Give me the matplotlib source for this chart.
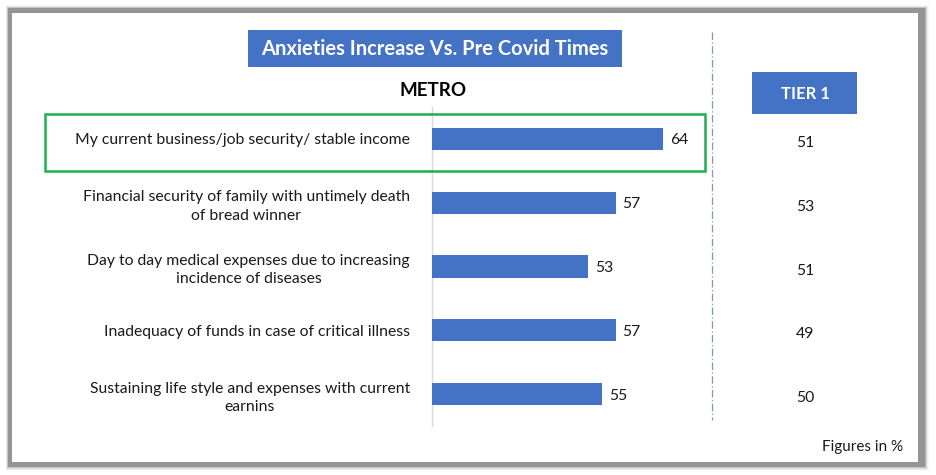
import matplotlib
matplotlib.use("Agg")
import matplotlib.pyplot as plt
from matplotlib.patches import Rectangle
from matplotlib.lines import Line2D
import matplotlib.transforms as mtransforms

categories = [
    "My current business/job security/ stable income",
    "Financial security of family with untimely death\nof bread winner",
    "Day to day medical expenses due to increasing\nincidence of diseases",
    "Inadequacy of funds in case of critical illness",
    "Sustaining life style and expenses with current\nearnins",
]
metro = [64, 57, 53, 57, 55]
tier1 = [51, 53, 51, 49, 50]
title = "Anxieties Increase Vs. Pre Covid Times"
metro_label = "METRO"
tier_label = "TIER 1"
note = "Figures in %"

W, H = 937, 475
BLUE = "#4472C4"
FONT = "Lato"
TXT = "#1a1a1a"

fig = plt.figure(figsize=(W / 100, H / 100), dpi=100)
fig.patch.set_facecolor("white")

def fx(x):
    return x / W

def fy(y):
    return 1 - y / H

# background frame with soft shadow (heavier toward right/bottom)
for i, a in enumerate([0.05, 0.08, 0.12, 0.18, 0.26, 0.36]):
    d = 6 - i
    fig.patches.append(Rectangle((fx(9 - d * 0.5), fy(466 + d * 0.7)),
                                 fx(915 + d * 1.3), (466 - 9 + d * 1.3) / H,
                                 transform=fig.transFigure, facecolor="#6a6a6a",
                                 alpha=a, edgecolor="none", zorder=0))
fig.patches.append(Rectangle((fx(12), fy(462)), fx(906), (462 - 13) / H,
                             transform=fig.transFigure, facecolor="white",
                             edgecolor="none", zorder=1))

# bar axes
ax = fig.add_axes([fx(432), fy(426), fx(280), (426 - 107) / H])
ax.set_zorder(3)
ax.patch.set_visible(False)
ypos = list(range(len(categories)))
ax.barh(ypos, metro, height=0.35, color=BLUE, zorder=3)
ax.set_xlim(30, 30 + 280 / 6.8)
ax.set_ylim(4.5, -0.5)
for s in ["top", "right", "bottom"]:
    ax.spines[s].set_visible(False)
ax.spines["left"].set_color("#D9D9D9")
ax.spines["left"].set_linewidth(1)
ax.set_xticks([])
ax.set_yticks(ypos)
ax.set_yticklabels(categories, fontsize=11.3, family=FONT, color=TXT,
                   multialignment="center", linespacing=1.4)
ax.tick_params(axis="y", length=0, pad=16)
for y, v in zip(ypos, metro):
    ax.annotate(str(v), (v, y), xytext=(5, 0), textcoords="offset points",
                va="center_baseline", ha="left", fontsize=11.3, family=FONT,
                color=TXT)

# tier 1 column
tr = mtransforms.blended_transform_factory(fig.transFigure, ax.transData)
for y, v in zip(ypos, tier1):
    ax.text(fx(805), y + 0.04, str(v), transform=tr, ha="center",
            va="center_baseline", fontsize=11.3, family=FONT, color=TXT,
            clip_on=False)

# title box
fig.patches.append(Rectangle((fx(248), fy(67)), fx(374), 37 / H,
                             transform=fig.transFigure, facecolor=BLUE,
                             edgecolor="none", zorder=2))
fig.text(fx(435), fy(49), title, ha="center", va="center", color="white",
         fontsize=14.5, fontweight="bold", family=FONT, zorder=4)

fig.text(fx(433), fy(90), metro_label, ha="center", va="center", color="black",
         fontsize=13.5, fontweight="bold", family=FONT, zorder=4)

# tier box
fig.patches.append(Rectangle((fx(752), fy(114)), fx(105), 42 / H,
                             transform=fig.transFigure, facecolor=BLUE,
                             edgecolor="none", zorder=2))
fig.text(fx(805), fy(94), tier_label, ha="center", va="center", color="white",
         fontsize=12, fontweight="bold", family=FONT, zorder=4)

# vertical dashed divider
fig.lines.append(Line2D([fx(712), fx(712)], [fy(32), fy(420)],
                        transform=fig.transFigure, color="#8497B0", lw=0.9,
                        linestyle=(0, (6, 2, 1, 2)), zorder=2))

# green highlight box
fig.patches.append(Rectangle((fx(45), fy(171)), fx(660), 57 / H,
                             transform=fig.transFigure, facecolor="none",
                             edgecolor="#1DAF50", lw=1.8, zorder=4))

fig.text(fx(903), fy(447), note, ha="right", va="center", color=TXT,
         fontsize=11, family=FONT, zorder=4)

fig.savefig("out.png", dpi=100)
